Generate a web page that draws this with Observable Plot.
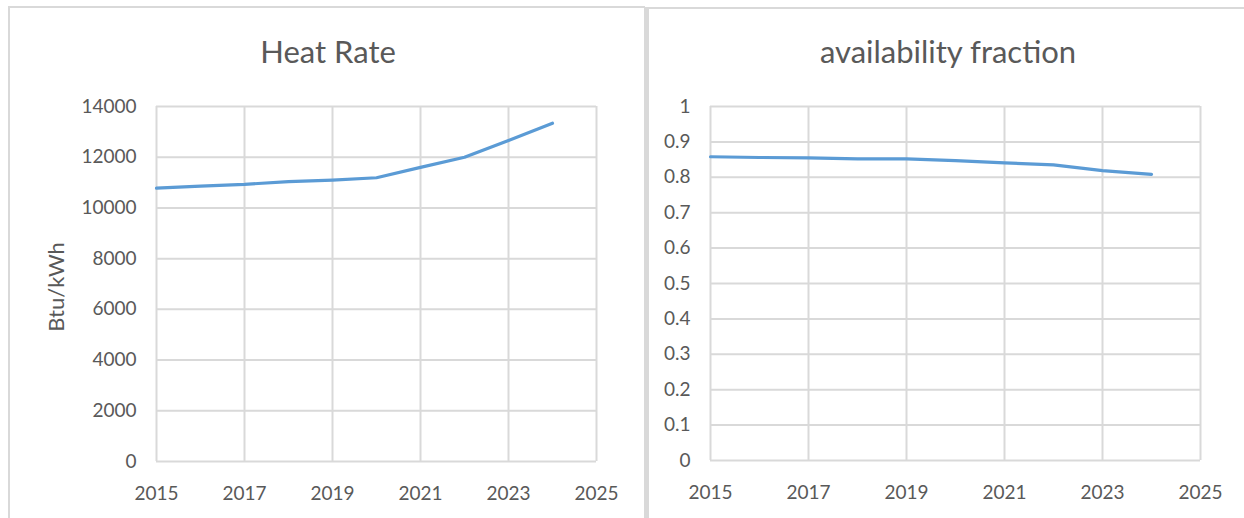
<!DOCTYPE html>
<html>
<head>
<meta charset="utf-8">
<script src="https://cdn.jsdelivr.net/npm/d3@7"></script>
<script src="https://cdn.jsdelivr.net/npm/@observablehq/plot@0.6"></script>
<style>
  body { margin: 0; background: #fff; }
  #page { position: relative; width: 1244px; height: 518px; overflow: hidden; font-family: Lato, sans-serif; color: #595959; }
  .panel { position: absolute; box-sizing: border-box; border: 0 solid #d9d9d9; background: #fff; }
  .title { position: absolute; width: 600px; text-align: center; font-size: 31px; line-height: 31px; white-space: nowrap; }
  .chart { position: absolute; top: 0; }
</style>
</head>
<body>
<div id="page">
  <div class="panel" style="left:8px;top:6px;width:637px;height:520px;border-top-width:2px;border-left-width:2px;border-right-width:1px;"></div>
  <div class="panel" style="left:645px;top:7px;width:610px;height:520px;border-top-width:2px;border-left-width:4px;"></div>
  <div class="title" style="left:28px;top:36px;">Heat Rate</div>
  <div class="title" style="left:648px;top:36px;">availability fraction</div>
  <div class="chart" id="left" style="left:0px;"></div>
  <div class="chart" id="right" style="left:645px;"></div>
</div>
<script>
// Yearly series
const years = [2015, 2016, 2017, 2018, 2019, 2020, 2021, 2022, 2023, 2024];
const heatRate = [10780, 10860, 10930, 11040, 11100, 11190, 11600, 12000, 12660, 13340];
const availability = [0.858, 0.856, 0.855, 0.852, 0.852, 0.847, 0.841, 0.835, 0.819, 0.808];

// Axis ticks
const yearTicks = [2015, 2017, 2019, 2021, 2023, 2025];
const heatRateTicks = [0, 2000, 4000, 6000, 8000, 10000, 12000, 14000];
const availabilityTicks = [0, 0.1, 0.2, 0.3, 0.4, 0.5, 0.6, 0.7, 0.8, 0.9, 1];

const gridColor = "#d9d9d9";
const lineColor = "#5b9bd5";
const textColor = "#595959";

function panelChart({width, margins, values, yDomain, yTicks, yLabel, yLabelDx}) {
  const rows = years.map((year, i) => ({year, value: values[i]}));
  const marks = [
    Plot.ruleX(yearTicks, {stroke: gridColor, strokeWidth: 2}),
    Plot.ruleY(yTicks, {stroke: gridColor, strokeWidth: 2}),
    Plot.line(rows, {x: "year", y: "value", stroke: lineColor, strokeWidth: 3.2, strokeLinejoin: "round", strokeLinecap: "round"})
  ];
  if (yLabel) {
    // rotated y-axis title, centred on the plot frame
    marks.push(Plot.text([yLabel], {
      text: d => d, frameAnchor: "left", dx: yLabelDx, dy: 3, rotate: -90,
      fontSize: 22, fill: textColor, textAnchor: "middle"
    }));
  }
  return Plot.plot({
    width,
    height: 518,
    ...margins,
    style: {fontFamily: "Lato, sans-serif", fontSize: "19px", color: textColor, background: "transparent", overflow: "visible"},
    x: {domain: [2015, 2025], ticks: yearTicks, tickFormat: d => String(d), tickSize: 0, tickPadding: 25, label: null},
    y: {domain: yDomain, ticks: yTicks, tickFormat: d => String(d), tickSize: 0, tickPadding: 20, label: null},
    marks
  });
}

const left = panelChart({
  width: 645,
  margins: {marginLeft: 156, marginRight: 49, marginTop: 106, marginBottom: 57},
  values: heatRate,
  yDomain: [0, 14000],
  yTicks: heatRateTicks,
  yLabel: "Btu/kWh",
  yLabelDx: -100
});
document.getElementById("left").append(left);

const right = panelChart({
  width: 599,
  margins: {marginLeft: 65, marginRight: 44, marginTop: 106, marginBottom: 58},
  values: availability,
  yDomain: [0, 1],
  yTicks: availabilityTicks
});
document.getElementById("right").append(right);
</script>
</body>
</html>
